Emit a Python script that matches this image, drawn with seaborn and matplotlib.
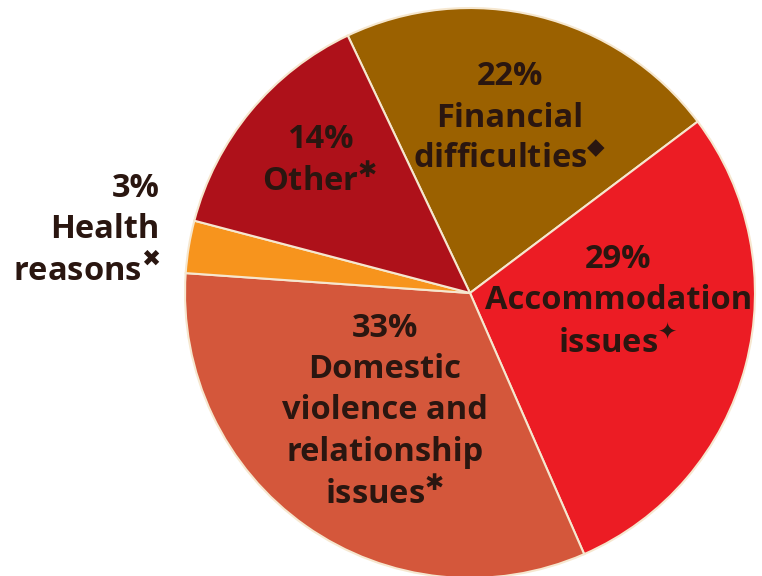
import matplotlib
matplotlib.use("Agg")
import matplotlib.pyplot as plt
import seaborn as sns

# Data
categories = ["Financial difficulties", "Accommodation issues",
              "Domestic violence and relationship issues", "Health reasons", "Other"]
shares = [22, 29, 33, 3, 14]
labels = [
    "22%\nFinancial\ndifficulties$^{\u25c6}$",
    "29%\nAccommodation\nissues$^{\u2726}$",
    "33%\nDomestic\nviolence and\nrelationship\nissues$^{\u2731}$",
    "3%\nHealth\nreasons$^{\u2716}$",
    "14%\nOther$^{\u2731}$",
]
colors = ["#9b6100", "#ec1c24", "#d4573b", "#f7941d", "#ae111a"]

# label centres in pie units (radius = 1)
label_pos = [(0.14, 0.614), (0.52, -0.032), (-0.298, -0.418), (-1.088, 0.221), (-0.526, 0.463)]
label_ha = ["center", "center", "center", "right", "center"]

sns.set_theme(style="white")
plt.rcParams["font.family"] = ["Open Sans", "DejaVu Sans"]
plt.rcParams["mathtext.fontset"] = "dejavusans"

fig = plt.figure(figsize=(7.62, 5.76), dpi=100)
ax = fig.add_axes([0.2428, -0.0035, 0.748, 0.9896])

ax.pie(shares, colors=colors, startangle=115.4, counterclock=False,
       wedgeprops=dict(edgecolor="#f6e7cf", linewidth=1.5))

for lab, (x, y), ha in zip(labels, label_pos, label_ha):
    ax.text(x, y, lab, ha=ha, va="center", fontsize=23.5, fontweight="bold",
            color="#2a1610", linespacing=1.33,
            multialignment="center" if ha == "center" else "right")

ax.set_xlim(-1, 1)
ax.set_ylim(-1, 1)
ax.set_axis_off()

fig.savefig("out.png", dpi=100)
